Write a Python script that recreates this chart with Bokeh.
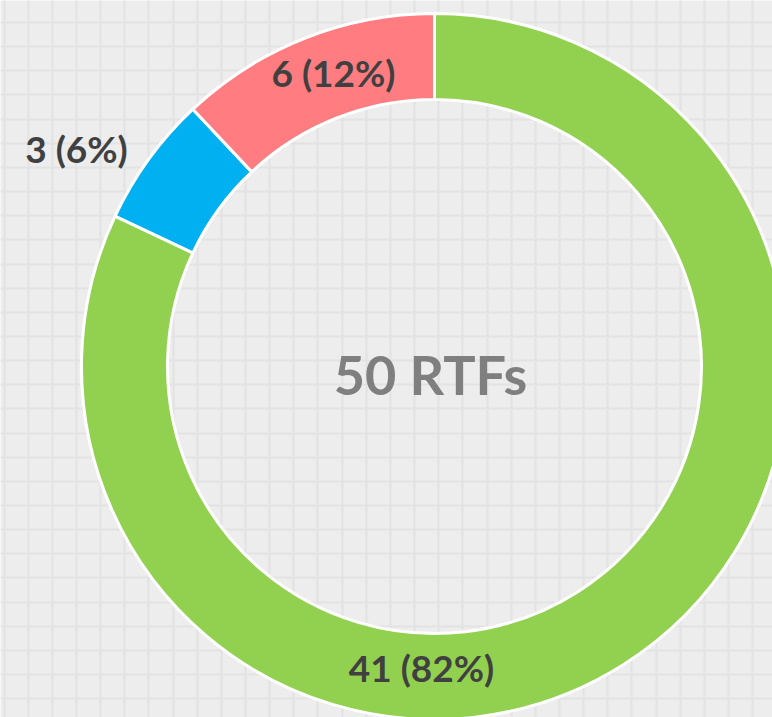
import numpy as np
from bokeh.plotting import figure
from bokeh.models import Range1d, Grid, FixedTicker, ColumnDataSource
from bokeh.core.properties import value
from bokeh.embed import file_html
from bokeh.resources import INLINE

# ---- data ----
categories = ["Green", "Blue", "Red"]
counts = [41, 3, 6]
colors = ["#92D050", "#00B0F0", "#FF7C80"]
center_label = "50 RTFs"

# ---- layout (pixels, y measured up from bottom) ----
W, H = 772, 717
cx, cy = 434, H - 366
r_in, r_out = 267, 353
label_pos = [(421, H - 667), (76, H - 148), (333, H - 72)]

total = sum(counts)
fracs = np.array(counts) / total
ends_cum = np.cumsum(fracs)
starts_cum = ends_cum - fracs
start_angles = np.pi / 2 - 2 * np.pi * starts_cum
end_angles = np.pi / 2 - 2 * np.pi * ends_cum
labels = [f"{c} ({round(f*100)}%)" for c, f in zip(counts, fracs)]

src = ColumnDataSource(dict(
    x=[cx] * len(counts), y=[cy] * len(counts),
    start=start_angles, end=end_angles, color=colors,
    lx=[p[0] for p in label_pos], ly=[p[1] for p in label_pos], label=labels,
))

p = figure(width=W, height=H, x_range=Range1d(0, W), y_range=Range1d(0, H),
           x_axis_type=None, y_axis_type=None, toolbar_location=None,
           output_backend="svg", min_border=0)
p.outline_line_color = None
p.background_fill_color = "#ededed"
p.border_fill_color = "#ededed"

step = 24.15
xt = list(np.arange(3.5, W, step))
yt = list(H - np.arange(22 - step, H + step, step))
p.add_layout(Grid(dimension=0, ticker=FixedTicker(ticks=xt),
                  grid_line_color="#e3e3e3", grid_line_width=2.2))
p.add_layout(Grid(dimension=1, ticker=FixedTicker(ticks=yt),
                  grid_line_color="#e3e3e3", grid_line_width=2.2))

p.annular_wedge(x="x", y="y", inner_radius=r_in, outer_radius=r_out,
                start_angle="start", end_angle="end", direction="clock",
                fill_color="color", line_color="white", line_width=3, source=src)

p.text(x="lx", y="ly", text="label", source=src, text_align="center",
       text_baseline="middle", text_font=value("Lato"), text_font_style="bold",
       text_font_size="37px", text_color="#404040")

p.text(x=[cx - 4], y=[cy - 8], text=[center_label], text_align="center",
       text_baseline="middle", text_font=value("Lato"), text_font_style="bold",
       text_font_size="54px", text_color="#7f7f7f")

open("out.html", "w").write(file_html(p, INLINE))
